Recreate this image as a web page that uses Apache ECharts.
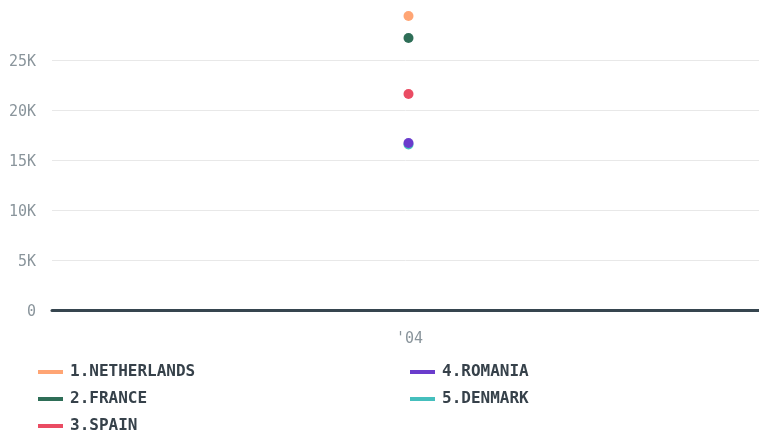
<!DOCTYPE html>
<html><head><meta charset="utf-8">
<script src="https://cdn.jsdelivr.net/npm/echarts@6/dist/echarts.min.js"></script>
<style>html,body{margin:0;padding:0;background:#fff}#c{width:759px;height:435px}</style>
</head><body><div id="c"></div>
<script>
const categories = ["'04"];
const seriesNames = ["1.NETHERLANDS","2.FRANCE","3.SPAIN","4.ROMANIA","5.DENMARK"];
const netherlands = [29400];
const france = [27200];
const spain = [21600];
const romania = [16700];
const denmark = [16550];
const colors = ["#ffa574","#2e6e57","#ea4c63","#6a3ccc","#45bfbd"];
const values = [netherlands, france, spain, romania, denmark];

const chart = echarts.init(document.getElementById('c'));
const font = "'DejaVu Sans Mono', monospace";
const legendBase = {
  orient: 'vertical', icon: 'rect', itemWidth: 25, itemHeight: 4, itemGap: 11, padding: 0,
  textStyle: {fontFamily: font, fontSize: 16, fontWeight: 'bold', color: '#36414a', padding: [0,0,0,2]},
  top: 364
};
chart.setOption({
  animation: false,
  color: colors,
  grid: {left: 52, right: 0, top: 10, height: 300},
  xAxis: {
    type: 'category', data: categories, boundaryGap: true,
    axisLine: {lineStyle: {color: '#36454f', width: 3}},
    axisTick: {show: false},
    axisLabel: {fontFamily: font, fontSize: 15, color: '#8a959c', margin: 22, padding: [0,0,0,8]}
  },
  yAxis: {
    type: 'value', min: 0, max: 30000, interval: 5000,
    axisLine: {show: false}, axisTick: {show: false},
    axisLabel: {fontFamily: font, fontSize: 15, color: '#8a959c', margin: 16, showMaxLabel: false,
      formatter: v => '{a|' + (v === 0 ? '0' : (v/1000) + 'K') + '}',
      rich: {a: {fontFamily: font, fontSize: 15, color: '#8a959c', padding: [4,0,0,0]}}},
    splitLine: {showMaxLine: false, lineStyle: {color: '#e8e8e8'}}
  },
  legend: [
    Object.assign({}, legendBase, {left: 38, data: seriesNames.slice(0,3)}),
    Object.assign({}, legendBase, {left: 410, data: seriesNames.slice(3)})
  ],
  series: seriesNames.map((n, i) => ({
    name: n, type: 'line', data: values[i], symbol: 'circle', symbolSize: 10, symbolOffset: [3, 0],
    z: i === 3 ? 4 : 2,
    showSymbol: true, itemStyle: {color: colors[i]}, lineStyle: {color: colors[i], width: 3}
  }))
});
</script></body></html>
